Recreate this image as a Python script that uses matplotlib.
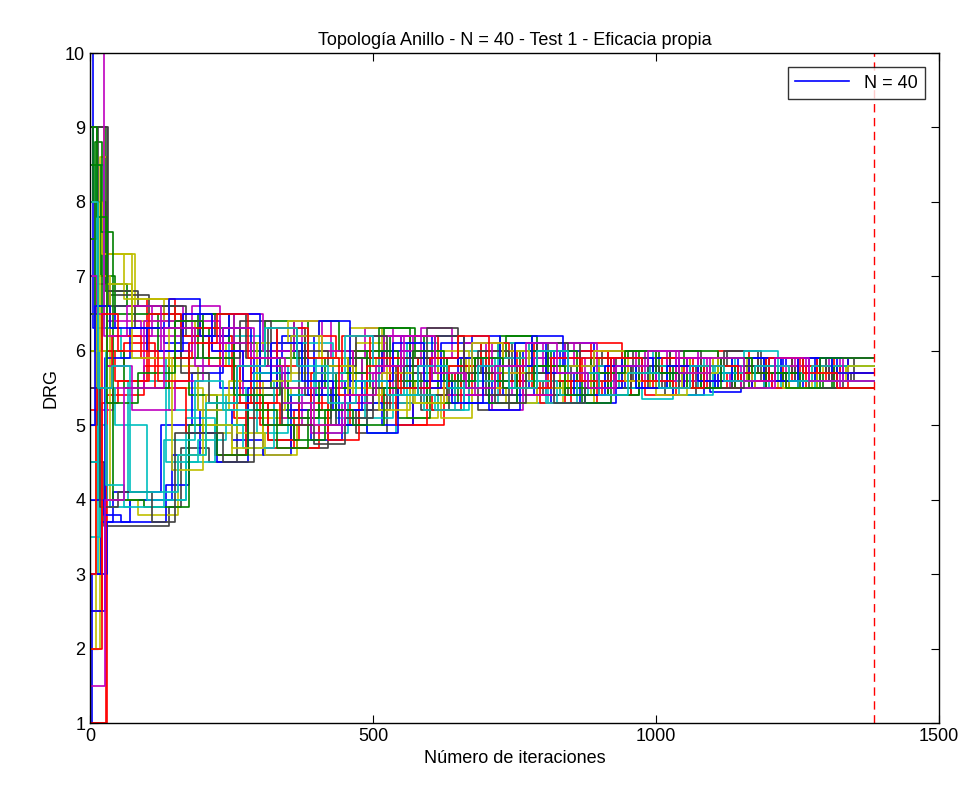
import matplotlib
matplotlib.use("Agg")
import matplotlib.pyplot as plt

# Iteration at which each particle's DRG value changes, and the value it takes (step data)
x1 = [0, 6, 45, 130, 175, 230, 290, 340, 395, 450, 500, 555, 610, 660, 720, 775, 830, 890, 940, 1000, 1055, 1110, 1170, 1225, 1285, 1340, 1385]
y1 = [10.0, 6.3, 6.6, 6.1, 5.8, 5.5, 5.9, 6.2, 5.6, 5.2, 5.5, 5.9, 6.2, 5.8, 5.5, 5.7, 6.0, 5.7, 5.5, 5.8, 5.9, 5.6, 5.8, 5.9, 5.7, 5.8, 5.8]
x2 = [0, 12, 26, 75, 160, 210, 265, 320, 370, 425, 480, 530, 590, 640, 695, 750, 805, 860, 915, 970, 1025, 1080, 1135, 1195, 1250, 1310, 1385]
y2 = [7.5, 9.0, 6.8, 6.3, 5.9, 6.3, 6.0, 5.5, 5.1, 5.5, 5.9, 6.2, 5.7, 5.4, 5.8, 6.0, 5.6, 5.4, 5.8, 6.0, 5.6, 5.5, 5.9, 5.7, 5.5, 5.8, 5.8]
x3 = [0, 30, 95, 150, 200, 255, 305, 360, 410, 465, 515, 570, 625, 675, 730, 785, 840, 895, 950, 1005, 1060, 1115, 1170, 1230, 1285, 1340, 1385]
y3 = [1.0, 5.4, 5.8, 6.4, 6.1, 5.1, 4.7, 5.2, 5.6, 6.0, 5.3, 5.0, 5.4, 5.8, 6.1, 5.5, 5.3, 5.6, 5.8, 5.6, 5.9, 5.6, 5.5, 5.7, 5.9, 5.5, 5.5]
x4 = [0, 15, 30, 67, 140, 190, 245, 300, 350, 405, 455, 510, 560, 615, 670, 720, 775, 830, 885, 940, 995, 1050, 1105, 1160, 1220, 1300, 1385]
y4 = [3.0, 5.0, 4.0, 5.6, 5.2, 5.8, 6.2, 5.8, 5.4, 4.9, 5.3, 5.7, 6.1, 5.6, 5.3, 5.7, 5.9, 5.5, 5.8, 6.0, 5.6, 5.5, 5.8, 5.6, 5.9, 5.7, 5.7]
x5 = [0, 10, 35, 110, 165, 215, 270, 325, 375, 430, 485, 535, 590, 645, 700, 750, 805, 860, 915, 965, 1020, 1075, 1130, 1190, 1245, 1305, 1385]
y5 = [5.5, 6.9, 6.2, 6.6, 6.3, 6.0, 5.4, 5.0, 5.5, 5.9, 6.3, 5.7, 5.3, 5.7, 6.1, 5.8, 5.4, 5.7, 6.0, 5.6, 5.9, 5.5, 5.7, 5.9, 5.6, 5.9, 5.9]
x6 = [0, 18, 30, 80, 150, 200, 250, 305, 355, 410, 460, 515, 565, 620, 675, 725, 780, 835, 890, 945, 1000, 1055, 1110, 1165, 1225, 1290, 1385]
y6 = [2.0, 8.6, 7.3, 6.4, 5.5, 4.9, 4.6, 5.1, 5.5, 6.0, 6.3, 5.8, 5.4, 5.1, 5.5, 5.9, 5.6, 5.3, 5.7, 6.0, 5.7, 5.5, 5.8, 5.5, 5.7, 5.6, 5.6]
x7 = [0, 25, 140, 160, 210, 260, 315, 365, 420, 470, 525, 580, 630, 685, 740, 790, 845, 900, 955, 1010, 1065, 1120, 1175, 1235, 1290, 1345, 1385]
y7 = [4.5, 3.65, 3.9, 4.7, 4.5, 5.3, 4.8, 4.7, 5.2, 4.9, 5.4, 5.9, 5.5, 5.2, 5.6, 5.4, 5.7, 5.4, 5.8, 5.5, 5.8, 5.6, 5.5, 5.8, 5.6, 5.7, 5.7]
x8 = [0, 20, 40, 125, 180, 235, 285, 340, 390, 445, 500, 550, 605, 660, 710, 765, 820, 875, 930, 985, 1040, 1095, 1150, 1210, 1270, 1330, 1385]
y8 = [3.0, 3.7, 4.1, 5.0, 5.7, 6.3, 5.7, 5.2, 4.8, 5.2, 5.6, 6.2, 5.8, 5.3, 5.6, 6.0, 5.6, 5.3, 5.6, 5.9, 5.6, 5.45, 5.7, 5.9, 5.6, 5.8, 5.8]
x9 = [0, 5, 28, 65, 150, 200, 255, 310, 360, 415, 470, 520, 575, 630, 680, 735, 790, 845, 900, 950, 1005, 1060, 1115, 1175, 1235, 1295, 1385]
y9 = [9.0, 8.0, 6.9, 6.6, 6.3, 6.5, 5.8, 6.4, 5.9, 5.5, 5.9, 6.3, 5.9, 5.5, 5.9, 6.2, 5.7, 5.5, 5.9, 6.0, 5.7, 5.9, 5.6, 5.8, 5.5, 5.7, 5.7]
x10 = [0, 22, 50, 100, 150, 195, 250, 300, 355, 405, 460, 510, 565, 615, 670, 725, 780, 830, 885, 940, 995, 1050, 1110, 1165, 1225, 1285, 1385]
y10 = [2.5, 5.3, 5.6, 6.7, 6.4, 6.2, 5.6, 5.0, 4.7, 5.0, 5.5, 5.9, 6.2, 5.7, 5.4, 5.8, 5.5, 5.8, 6.1, 5.7, 5.5, 5.8, 6.0, 5.6, 5.8, 5.6, 5.6]
x11 = [0, 14, 35, 70, 170, 220, 275, 330, 380, 435, 490, 540, 595, 650, 700, 755, 810, 865, 920, 975, 1030, 1085, 1140, 1200, 1260, 1320, 1385]
y11 = [6.5, 4.0, 3.9, 4.0, 5.1, 4.6, 5.5, 6.1, 5.6, 5.1, 4.9, 5.3, 5.8, 6.0, 5.6, 5.3, 5.6, 5.9, 5.5, 5.35, 5.7, 5.9, 5.5, 5.6, 5.8, 5.6, 5.6]
x12 = [0, 8, 30, 90, 165, 215, 265, 320, 375, 425, 480, 535, 585, 640, 695, 745, 800, 855, 910, 965, 1020, 1075, 1135, 1190, 1250, 1310, 1385]
y12 = [8.0, 6.0, 6.4, 6.2, 6.5, 6.1, 5.6, 6.0, 6.4, 5.9, 5.4, 5.8, 6.3, 5.9, 5.4, 5.7, 6.1, 5.8, 5.5, 5.8, 6.0, 5.6, 5.8, 5.5, 5.9, 5.6, 5.6]
x13 = [0, 25, 60, 130, 185, 240, 295, 345, 400, 455, 505, 560, 615, 665, 720, 775, 830, 885, 935, 990, 1045, 1100, 1155, 1215, 1275, 1335, 1385]
y13 = [9.0, 7.3, 6.7, 6.4, 6.1, 5.8, 5.2, 5.7, 5.4, 5.9, 5.4, 5.1, 5.6, 5.9, 6.1, 5.7, 5.4, 5.7, 5.5, 5.8, 5.6, 5.9, 5.7, 5.5, 5.8, 5.7, 5.7]
x14 = [0, 12, 35, 105, 160, 210, 265, 320, 370, 425, 475, 530, 585, 635, 690, 745, 800, 850, 905, 960, 1015, 1070, 1125, 1185, 1245, 1305, 1385]
y14 = [5.0, 6.6, 6.75, 6.5, 6.2, 5.9, 6.4, 6.0, 5.5, 5.0, 5.2, 5.7, 5.2, 5.7, 6.1, 5.6, 5.4, 5.8, 6.0, 5.6, 5.4, 5.8, 6.0, 5.6, 5.8, 5.6, 5.6]
x15 = [0, 3, 30, 70, 145, 195, 250, 305, 355, 410, 460, 515, 570, 620, 675, 730, 785, 840, 890, 945, 1000, 1055, 1110, 1170, 1230, 1290, 1385]
y15 = [1.0, 3.0, 3.7, 4.0, 4.6, 5.2, 4.8, 4.6, 5.4, 5.8, 5.3, 5.0, 5.6, 6.1, 5.7, 5.4, 5.6, 6.1, 5.7, 5.5, 5.9, 5.7, 5.5, 5.8, 5.9, 5.7, 5.7]
x16 = [0, 20, 45, 120, 175, 225, 280, 335, 385, 440, 495, 545, 600, 655, 705, 760, 815, 870, 920, 975, 1030, 1085, 1145, 1200, 1260, 1320, 1385]
y16 = [8.0, 7.0, 6.5, 6.0, 5.4, 5.0, 5.4, 5.9, 6.4, 6.0, 5.5, 5.1, 5.5, 5.9, 5.6, 6.0, 5.6, 5.3, 5.6, 5.8, 5.5, 5.8, 5.6, 5.9, 5.6, 5.8, 5.8]
x17 = [0, 28, 60, 115, 170, 220, 275, 330, 380, 435, 490, 540, 595, 645, 700, 755, 810, 865, 915, 970, 1025, 1080, 1140, 1195, 1255, 1315, 1385]
y17 = [1.0, 5.8, 6.1, 5.5, 4.9, 4.6, 5.3, 5.8, 6.2, 5.9, 5.4, 5.0, 5.4, 5.7, 6.0, 5.5, 5.7, 6.0, 5.5, 5.7, 5.9, 5.6, 5.5, 5.9, 5.6, 5.9, 5.9]
x18 = [0, 10, 25, 55, 135, 190, 240, 295, 350, 400, 455, 510, 560, 615, 670, 720, 775, 830, 880, 935, 990, 1045, 1100, 1160, 1220, 1280, 1385]
y18 = [7.0, 8.5, 6.3, 5.9, 4.5, 4.8, 5.4, 4.9, 5.4, 5.9, 5.5, 5.9, 5.4, 5.2, 5.7, 6.1, 5.7, 5.4, 5.7, 5.5, 5.8, 5.6, 5.8, 5.6, 5.5, 5.8, 5.8]
x19 = [0, 16, 40, 95, 180, 230, 285, 340, 390, 445, 500, 550, 605, 660, 710, 765, 820, 875, 925, 980, 1035, 1090, 1150, 1205, 1265, 1325, 1385]
y19 = [6.0, 5.2, 5.5, 6.4, 6.6, 6.0, 5.5, 5.1, 5.5, 5.9, 6.2, 5.6, 5.9, 5.4, 5.2, 5.5, 5.9, 5.6, 5.9, 6.0, 5.6, 5.8, 5.5, 5.7, 5.9, 5.5, 5.5]
x20 = [0, 10, 35, 85, 155, 205, 260, 310, 365, 420, 470, 525, 575, 630, 685, 735, 790, 845, 900, 950, 1005, 1060, 1120, 1175, 1235, 1295, 1385]
y20 = [2.0, 7.0, 4.0, 3.8, 4.6, 5.4, 4.9, 4.6, 5.0, 5.6, 6.1, 5.6, 5.3, 5.8, 5.5, 5.3, 5.8, 5.5, 5.9, 5.6, 5.5, 5.9, 5.6, 5.5, 5.8, 5.7, 5.7]
x21 = [0, 30, 85, 170, 220, 275, 330, 380, 435, 490, 540, 595, 650, 700, 755, 810, 865, 915, 970, 1025, 1080, 1135, 1195, 1250, 1310, 1350, 1385]
y21 = [9.0, 6.8, 6.6, 6.2, 6.5, 5.9, 6.3, 5.4, 5.0, 5.4, 5.8, 6.3, 5.8, 5.4, 5.8, 6.1, 5.7, 5.4, 5.8, 6.0, 5.7, 5.5, 5.8, 5.6, 5.9, 5.6, 5.6]
x22 = [0, 24, 55, 135, 175, 225, 280, 330, 385, 440, 490, 545, 600, 650, 705, 760, 815, 865, 920, 975, 1030, 1085, 1145, 1200, 1260, 1320, 1385]
y22 = [4.0, 3.8, 3.7, 4.2, 4.9, 4.5, 5.5, 6.0, 5.4, 5.0, 4.9, 5.5, 5.9, 5.6, 5.2, 5.6, 5.3, 5.6, 5.9, 5.5, 5.4, 5.7, 5.9, 5.6, 5.5, 5.9, 5.9]
x23 = [0, 8, 22, 60, 140, 190, 245, 300, 350, 405, 455, 510, 565, 615, 670, 725, 780, 830, 885, 940, 995, 1050, 1110, 1165, 1225, 1285, 1385]
y23 = [6.0, 8.8, 6.0, 5.5, 5.9, 6.5, 6.1, 5.6, 5.1, 5.6, 5.9, 6.3, 5.9, 5.5, 5.8, 6.2, 5.8, 5.5, 5.9, 5.6, 5.8, 6.0, 5.7, 5.5, 5.7, 5.5, 5.5]
x24 = [0, 15, 45, 105, 160, 210, 265, 315, 370, 420, 475, 530, 580, 635, 690, 740, 795, 850, 905, 955, 1010, 1065, 1125, 1180, 1240, 1300, 1385]
y24 = [5.2, 6.0, 5.6, 6.5, 6.2, 5.8, 5.3, 4.8, 5.3, 4.8, 5.4, 5.9, 5.5, 5.8, 6.1, 5.6, 5.3, 5.6, 5.4, 5.7, 5.9, 5.5, 5.7, 5.9, 5.6, 5.8, 5.8]
x25 = [0, 18, 45, 100, 170, 220, 270, 325, 375, 430, 485, 535, 590, 645, 695, 750, 805, 860, 910, 965, 1020, 1075, 1135, 1190, 1250, 1310, 1385]
y25 = [3.5, 5.5, 5.0, 4.0, 4.5, 5.0, 4.7, 5.6, 6.1, 5.6, 5.1, 5.4, 5.2, 5.6, 5.9, 5.5, 5.3, 5.8, 5.5, 5.8, 5.5, 5.7, 5.9, 5.5, 5.7, 5.9, 5.9]
x26 = [0, 12, 30, 75, 150, 200, 255, 305, 360, 410, 465, 520, 570, 625, 680, 730, 785, 840, 895, 945, 1000, 1055, 1115, 1170, 1230, 1290, 1385]
y26 = [7.0, 6.5, 5.8, 5.2, 5.6, 6.1, 6.5, 6.0, 6.4, 6.0, 5.7, 6.2, 5.8, 5.4, 5.8, 5.5, 5.9, 6.1, 5.6, 5.9, 5.6, 5.9, 5.6, 5.8, 5.6, 5.7, 5.7]
x27 = [0, 22, 75, 140, 190, 245, 295, 350, 405, 455, 510, 565, 615, 670, 725, 775, 830, 885, 940, 990, 1045, 1100, 1160, 1215, 1275, 1335, 1385]
y27 = [8.0, 7.3, 6.7, 5.8, 5.2, 5.6, 6.1, 6.4, 5.9, 5.5, 5.2, 5.6, 6.0, 5.7, 6.0, 5.6, 5.8, 5.5, 5.7, 5.5, 5.8, 5.9, 5.6, 5.8, 5.6, 5.8, 5.8]
x28 = [0, 14, 32, 80, 160, 210, 260, 315, 365, 420, 470, 525, 580, 630, 685, 740, 790, 845, 900, 955, 1005, 1060, 1120, 1180, 1240, 1300, 1385]
y28 = [6.5, 9.0, 6.6, 6.3, 5.7, 5.3, 5.8, 6.3, 6.0, 5.8, 6.2, 5.8, 5.4, 5.7, 6.0, 5.7, 6.1, 5.7, 5.5, 5.8, 5.5, 5.8, 6.0, 5.7, 5.9, 5.7, 5.7]
x29 = [0, 26, 70, 140, 195, 245, 300, 355, 405, 460, 515, 565, 620, 675, 725, 780, 835, 890, 940, 995, 1050, 1105, 1165, 1220, 1280, 1340, 1385]
y29 = [2.5, 5.9, 6.3, 6.7, 6.2, 6.5, 5.7, 6.2, 6.4, 5.6, 6.0, 5.5, 5.9, 6.2, 5.8, 6.2, 5.8, 5.5, 5.9, 5.7, 5.5, 5.7, 5.9, 5.6, 5.9, 5.6, 5.6]
x30 = [0, 20, 40, 95, 175, 225, 280, 330, 385, 435, 490, 545, 595, 650, 705, 755, 810, 860, 915, 970, 1025, 1080, 1140, 1195, 1255, 1315, 1385]
y30 = [8.5, 7.6, 4.0, 3.9, 5.0, 4.6, 5.2, 4.7, 5.2, 5.7, 6.0, 5.6, 5.3, 5.7, 5.3, 5.7, 6.0, 5.6, 5.4, 5.7, 5.5, 5.8, 5.5, 5.7, 5.5, 5.8, 5.8]
x31 = [0, 10, 38, 90, 180, 230, 285, 335, 390, 445, 495, 550, 605, 655, 710, 765, 820, 870, 925, 980, 1035, 1090, 1150, 1205, 1265, 1325, 1385]
y31 = [3.0, 5.5, 6.2, 5.9, 6.3, 5.8, 5.3, 5.0, 5.7, 6.2, 5.9, 5.4, 5.2, 5.6, 5.9, 5.4, 5.6, 5.9, 5.6, 5.4, 5.8, 5.5, 5.7, 5.5, 5.8, 5.7, 5.7]
x32 = [0, 16, 28, 60, 130, 185, 235, 290, 340, 395, 450, 500, 555, 610, 660, 715, 770, 825, 875, 930, 985, 1040, 1100, 1155, 1215, 1275, 1385]
y32 = [4.5, 6.0, 4.2, 3.9, 4.8, 5.6, 5.2, 5.7, 5.3, 5.7, 6.2, 5.8, 5.4, 5.2, 5.6, 5.9, 5.6, 5.3, 5.6, 5.8, 5.6, 5.4, 5.7, 6.0, 5.6, 5.8, 5.8]
x33 = [0, 24, 65, 125, 180, 230, 285, 340, 390, 445, 500, 550, 605, 660, 710, 765, 820, 875, 925, 980, 1035, 1090, 1150, 1210, 1270, 1330, 1385]
y33 = [10.0, 6.2, 6.6, 6.0, 6.4, 6.1, 5.8, 5.3, 4.9, 5.3, 5.7, 6.0, 5.6, 6.1, 5.7, 5.4, 5.7, 5.4, 5.9, 5.6, 5.9, 5.6, 5.5, 5.8, 5.6, 5.9, 5.9]
x34 = [0, 30, 75, 145, 200, 250, 305, 355, 410, 465, 515, 570, 625, 675, 730, 785, 840, 890, 945, 1000, 1055, 1110, 1170, 1225, 1285, 1340, 1385]
y34 = [6.0, 6.9, 5.9, 4.4, 5.0, 4.7, 5.6, 6.2, 5.8, 5.4, 5.7, 5.3, 5.7, 6.1, 5.7, 5.5, 5.8, 6.0, 5.6, 5.4, 5.7, 5.9, 5.6, 5.5, 5.7, 5.8, 5.8]
x35 = [0, 18, 50, 110, 150, 235, 290, 340, 395, 450, 500, 555, 610, 660, 715, 770, 820, 875, 930, 985, 1040, 1095, 1155, 1210, 1270, 1330, 1385]
y35 = [5.5, 3.9, 4.1, 3.7, 4.9, 4.5, 5.5, 5.0, 4.75, 5.1, 5.5, 5.9, 6.2, 5.7, 5.3, 5.7, 5.3, 5.5, 5.9, 5.5, 5.8, 5.5, 5.8, 5.6, 5.5, 5.6, 5.6]
x36 = [0, 8, 36, 100, 165, 215, 270, 320, 375, 430, 480, 535, 590, 640, 695, 750, 805, 855, 910, 965, 1020, 1075, 1135, 1190, 1250, 1310, 1385]
y36 = [5.0, 6.6, 6.3, 6.0, 6.5, 6.0, 5.6, 6.1, 5.6, 5.2, 5.6, 6.1, 5.6, 5.3, 5.8, 6.1, 5.7, 5.4, 5.8, 5.5, 5.8, 5.6, 5.9, 5.6, 5.9, 5.7, 5.7]
x37 = [0, 12, 30, 85, 150, 200, 255, 305, 360, 415, 465, 520, 570, 625, 680, 730, 785, 840, 890, 945, 1000, 1055, 1115, 1170, 1230, 1290, 1385]
y37 = [9.0, 7.8, 5.3, 5.7, 6.4, 5.9, 5.4, 5.0, 4.8, 5.2, 5.0, 5.5, 6.0, 5.6, 5.9, 5.5, 5.8, 5.4, 5.7, 6.0, 5.7, 5.5, 5.9, 5.7, 5.5, 5.9, 5.9]
x38 = [0, 22, 50, 120, 175, 225, 280, 330, 385, 440, 490, 545, 600, 650, 705, 760, 815, 865, 920, 975, 1030, 1085, 1145, 1200, 1260, 1320, 1385]
y38 = [2.0, 6.5, 6.0, 5.6, 6.1, 6.5, 5.9, 6.3, 5.9, 5.4, 5.8, 5.5, 5.9, 6.2, 5.8, 5.5, 5.9, 5.6, 5.9, 5.6, 5.5, 5.8, 5.6, 5.9, 5.7, 5.5, 5.5]
x39 = [0, 14, 38, 70, 155, 205, 260, 310, 365, 420, 470, 525, 580, 630, 685, 740, 790, 845, 900, 950, 1005, 1060, 1120, 1175, 1235, 1295, 1385]
y39 = [8.0, 5.5, 5.8, 4.1, 4.6, 5.3, 5.8, 6.3, 5.8, 5.3, 5.6, 5.4, 5.8, 5.5, 5.8, 5.5, 6.0, 5.7, 5.4, 5.7, 5.5, 5.8, 5.6, 5.8, 5.6, 5.6, 5.6]
x40 = [0, 26, 60, 130, 185, 235, 290, 345, 395, 450, 505, 555, 610, 665, 715, 770, 825, 880, 930, 985, 1040, 1095, 1155, 1210, 1270, 1330, 1385]
y40 = [1.5, 4.0, 5.5, 6.3, 5.8, 6.3, 5.9, 5.5, 5.0, 5.4, 5.8, 6.2, 5.7, 5.5, 5.8, 6.1, 5.7, 5.5, 5.8, 6.0, 5.7, 5.9, 5.6, 5.9, 5.6, 5.6, 5.6]

series = [
    (x1, y1), (x2, y2), (x3, y3), (x4, y4), (x5, y5), (x6, y6), (x7, y7), (x8, y8),
    (x9, y9), (x10, y10), (x11, y11), (x12, y12), (x13, y13), (x14, y14), (x15, y15),
    (x16, y16), (x17, y17), (x18, y18), (x19, y19), (x20, y20), (x21, y21), (x22, y22),
    (x23, y23), (x24, y24), (x25, y25), (x26, y26), (x27, y27), (x28, y28), (x29, y29),
    (x30, y30), (x31, y31), (x32, y32), (x33, y33), (x34, y34), (x35, y35), (x36, y36),
    (x37, y37), (x38, y38), (x39, y39), (x40, y40),
]
stop_iter = 1385

# old MATLAB default colour order: b, g, r, c, m, y, k
colours = [(0, 0, 1), (0, 0.5, 0), (1, 0, 0), (0, 0.75, 0.75),
           (0.75, 0, 0.75), (0.75, 0.75, 0), (0.25, 0.25, 0.25)]

plt.rcParams["font.family"] = ["Liberation Sans", "DejaVu Sans"]

fig = plt.figure(figsize=(9.72, 7.94), dpi=100)
ax = fig.add_axes([0.0926, 0.0894, 0.8735, 0.8438])

for i, (xs, ys) in enumerate(series):
    ax.plot(xs, ys, drawstyle="steps-post", lw=1.2, color=colours[i % 7],
            label="N = 40" if i == 0 else None)

ax.axvline(stop_iter, color="red", ls=(0, (6, 4)), lw=1.0)

ax.set_xlim(0, 1500)
ax.set_ylim(1, 10)
ax.set_xticks([0, 500, 1000, 1500])
ax.set_yticks(range(1, 11))
ax.tick_params(direction="in", top=True, right=True, length=6, labelsize=13)
for s in ax.spines.values():
    s.set_linewidth(1.0)

ax.set_title("Topología Anillo - N = 40 - Test 1 - Eficacia propia", fontsize=13)
ax.set_xlabel("Número de iteraciones", fontsize=13)
ax.set_ylabel("DRG", fontsize=13)

leg = ax.legend(loc="upper right", fancybox=False, edgecolor="black",
                fontsize=13, handlelength=3.0, borderaxespad=0.8)
leg.get_frame().set_linewidth(1.0)

fig.savefig("out.png", dpi=100)
